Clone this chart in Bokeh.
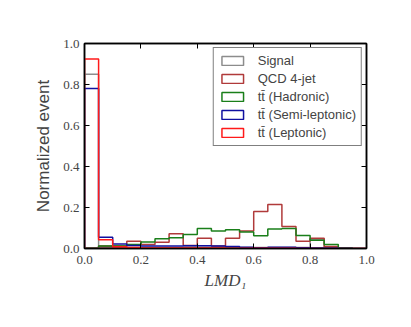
from bokeh.plotting import figure
from bokeh.models import (LinearAxis, FixedTicker, Legend, LegendItem, Range1d,
                          PrintfTickFormatter)
from bokeh.embed import file_html
from bokeh.resources import INLINE

# ---- data -------------------------------------------------------------
bin_edges = [round(0.05 * i, 2) for i in range(21)]

series_names = ["Signal", "QCD 4-jet", "tt\u0304 (Hadronic)",
                "tt\u0304 (Semi-leptonic)", "tt\u0304 (Leptonic)"]

signal = [0.850, 0.008, 0.006, 0.005, 0.005, 0.005, 0.005, 0.006, 0.006, 0.006,
          0.005, 0.005, 0.005, 0.005, 0.005, 0.005, 0.045, 0.005, 0.003, 0.000]
qcd = [0.000, 0.012, 0.012, 0.035, 0.020, 0.030, 0.072, 0.015, 0.050, 0.012,
       0.050, 0.085, 0.180, 0.215, 0.107, 0.035, 0.050, 0.010, 0.000, 0.000]
hadronic = [0.002, 0.012, 0.012, 0.020, 0.032, 0.047, 0.052, 0.068, 0.098, 0.085,
            0.092, 0.080, 0.062, 0.095, 0.097, 0.063, 0.040, 0.020, 0.004, 0.000]
semilep = [0.780, 0.055, 0.022, 0.015, 0.012, 0.012, 0.012, 0.013, 0.014, 0.012,
           0.010, 0.006, 0.004, 0.006, 0.006, 0.004, 0.003, 0.002, 0.001, 0.000]
leptonic = [0.925, 0.043, 0.008, 0.005, 0.003, 0.003, 0.002, 0.002, 0.002, 0.002,
            0.001, 0.001, 0.001, 0.001, 0.001, 0.000, 0.000, 0.000, 0.000, 0.000]

tick_values = [0.0, 0.2, 0.4, 0.6, 0.8, 1.0]

colors = ["#8c8c8c", "#b03a3a", "#1a7f1a", "#1010a0", "#ff1a1a"]
all_series = [signal, qcd, hadronic, semilep, leptonic]

# ---- figure -----------------------------------------------------------
p = figure(width=395, height=311, output_backend="svg", toolbar_location=None,
           x_range=Range1d(0, 1), y_range=Range1d(0, 1),
           min_border_left=84, min_border_top=43, min_border_right=29,
           min_border_bottom=63)
p.background_fill_color = "white"
p.border_fill_color = "white"
p.outline_line_color = "black"
p.outline_line_width = 1.5
p.xgrid.visible = False
p.ygrid.visible = False


def step_xy(h):
    xs = [bin_edges[0]]
    ys = [0.0]
    for i, v in enumerate(h):
        xs += [bin_edges[i], bin_edges[i + 1]]
        ys += [v, v]
    xs.append(bin_edges[-1])
    ys.append(0.0)
    return xs, ys


items = []
for name, h, c in zip(series_names, all_series, colors):
    xs, ys = step_xy(h)
    r = p.patch(xs, ys, fill_alpha=0, line_color=c, line_width=1.5)
    items.append(LegendItem(label=name, renderers=[r]))

legend = Legend(items=items, location="top_right")
legend.margin = 4
legend.padding = 5
legend.spacing = 3
legend.glyph_width = 27
legend.glyph_height = 11
legend.label_height = 14
legend.label_standoff = 12
legend.label_text_font = "Liberation Sans"
legend.label_text_font_size = "13px"
legend.border_line_color = "black"
legend.border_line_width = 1.5
legend.background_fill_alpha = 1
p.add_layout(legend, "center")

ticker = FixedTicker(ticks=tick_values)
for ax in (p.xaxis[0], p.yaxis[0]):
    ax.ticker = ticker
    ax.formatter = PrintfTickFormatter(format="%.1f")
    ax.major_tick_in = 5
    ax.major_tick_out = 0
    ax.minor_tick_line_color = None
    ax.axis_line_width = 1.5
    ax.major_tick_line_width = 1
    ax.major_label_text_font = "Liberation Serif"
    ax.major_label_text_font_size = "13px"

p.xaxis[0].major_label_standoff = 7
p.yaxis[0].major_label_standoff = 5

p.xaxis[0].axis_label = "LMD\u2081"
p.xaxis[0].axis_label_text_font = "Liberation Serif"
p.xaxis[0].axis_label_text_font_style = "italic"
p.xaxis[0].axis_label_text_font_size = "17px"
p.xaxis[0].axis_label_standoff = 4

p.yaxis[0].axis_label = "Normalized event"
p.yaxis[0].axis_label_text_font = "Liberation Sans"
p.yaxis[0].axis_label_text_font_style = "normal"
p.yaxis[0].axis_label_text_font_size = "17px"
p.yaxis[0].axis_label_standoff = 7

for loc in ("above", "right"):
    ax = LinearAxis(ticker=FixedTicker(ticks=tick_values))
    ax.major_tick_in = 5
    ax.major_tick_out = 0
    ax.minor_tick_line_color = None
    ax.axis_line_width = 1.5
    ax.major_label_text_alpha = 0
    ax.major_label_text_font_size = "1px"
    ax.major_label_standoff = 0
    p.add_layout(ax, loc)

open("out.html", "w").write(file_html(p, INLINE))
